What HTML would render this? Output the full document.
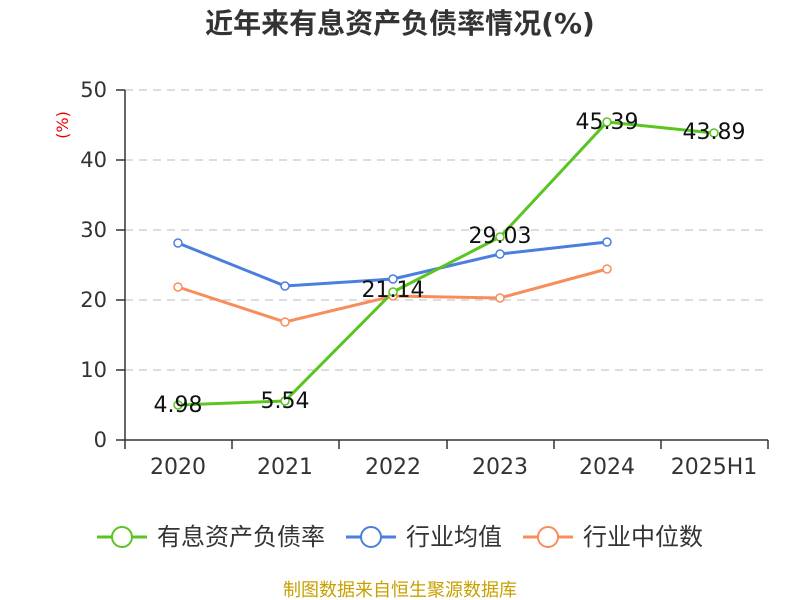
<!DOCTYPE html>
<html><head><meta charset="utf-8"><style>body{margin:0;background:#fff}svg{display:block}</style></head><body>
<svg width="800" height="600" xmlns="http://www.w3.org/2000/svg" font-family="DejaVu Sans, Noto Sans CJK SC, sans-serif">
<text x="400" y="33" text-anchor="middle" font-size="28" font-weight="bold" fill="#333">近年来有息资产负债率情况(%)</text>
<text x="68" y="125" font-size="16" fill="#e00" transform="rotate(-90 68 125)" text-anchor="middle">(%)</text>
<g stroke="#bbb" stroke-dasharray="8,6" stroke-width="1">
<line x1="125" y1="90" x2="768" y2="90"/><line x1="125" y1="160" x2="768" y2="160"/><line x1="125" y1="230" x2="768" y2="230"/><line x1="125" y1="300" x2="768" y2="300"/><line x1="125" y1="370" x2="768" y2="370"/>
</g>
<g stroke="#333" stroke-width="1.5">
<line x1="125" y1="90" x2="125" y2="440"/><line x1="125" y1="440" x2="768" y2="440"/>
<line x1="116" y1="90" x2="125" y2="90"/><line x1="116" y1="160" x2="125" y2="160"/><line x1="116" y1="230" x2="125" y2="230"/><line x1="116" y1="300" x2="125" y2="300"/><line x1="116" y1="370" x2="125" y2="370"/><line x1="116" y1="440" x2="125" y2="440"/>
<line x1="125" y1="440" x2="125" y2="449"/><line x1="232" y1="440" x2="232" y2="449"/><line x1="339" y1="440" x2="339" y2="449"/><line x1="447" y1="440" x2="447" y2="449"/><line x1="554" y1="440" x2="554" y2="449"/><line x1="661" y1="440" x2="661" y2="449"/><line x1="768" y1="440" x2="768" y2="449"/>
</g>
<g font-size="21" fill="#333" text-anchor="end">
<text x="107" y="97">50</text><text x="107" y="167">40</text><text x="107" y="237">30</text><text x="107" y="307">20</text><text x="107" y="377">10</text><text x="107" y="447">0</text>
</g>
<g font-size="22" fill="#333" text-anchor="middle">
<text x="178" y="474">2020</text><text x="285" y="474">2021</text><text x="393" y="474">2022</text><text x="500" y="474">2023</text><text x="607" y="474">2024</text><text x="714" y="474">2025H1</text>
</g>
<polyline fill="none" stroke="#f98d5a" stroke-width="3" points="178,287 285,322 393,296 500,298 607,269"/>
<polyline fill="none" stroke="#4a7ee0" stroke-width="3" points="178,243 285,286 393,279 500,254 607,242"/>
<polyline fill="none" stroke="#5ac520" stroke-width="3" points="178,405 285,401 393,292 500,237 607,122 714,133"/>
<g fill="#fff" stroke-width="1.5">
<g stroke="#f98d5a"><circle cx="178" cy="287" r="4"/><circle cx="285" cy="322" r="4"/><circle cx="393" cy="296" r="4"/><circle cx="500" cy="298" r="4"/><circle cx="607" cy="269" r="4"/></g>
<g stroke="#4a7ee0"><circle cx="178" cy="243" r="4"/><circle cx="285" cy="286" r="4"/><circle cx="393" cy="279" r="4"/><circle cx="500" cy="254" r="4"/><circle cx="607" cy="242" r="4"/></g>
<g stroke="#5ac520"><circle cx="178" cy="405" r="4"/><circle cx="285" cy="401" r="4"/><circle cx="393" cy="292" r="4"/><circle cx="500" cy="237" r="4"/><circle cx="607" cy="122" r="4"/><circle cx="714" cy="133" r="4"/></g>
</g>
<g font-size="22" fill="#111" text-anchor="middle">
<text x="178" y="412">4.98</text><text x="285" y="408">5.54</text><text x="393" y="297">21.14</text><text x="500" y="243">29.03</text><text x="607" y="129">45.39</text><text x="714" y="139">43.89</text>
</g>
<g stroke-width="3" fill="#fff">
<line x1="97" y1="537" x2="147" y2="537" stroke="#5ac520"/><circle cx="122" cy="537" r="10" stroke="#5ac520" stroke-width="2"/>
<line x1="346" y1="537" x2="396" y2="537" stroke="#4a7ee0"/><circle cx="371" cy="537" r="10" stroke="#4a7ee0" stroke-width="2"/>
<line x1="523" y1="537" x2="573" y2="537" stroke="#f98d5a"/><circle cx="548" cy="537" r="10" stroke="#f98d5a" stroke-width="2"/>
</g>
<g font-size="24" fill="#333">
<text x="157" y="545">有息资产负债率</text><text x="406" y="545">行业均值</text><text x="583" y="545">行业中位数</text>
</g>
<text x="400" y="596" text-anchor="middle" font-size="18" fill="#c8a000">制图数据来自恒生聚源数据库</text>
</svg>
</body></html>
